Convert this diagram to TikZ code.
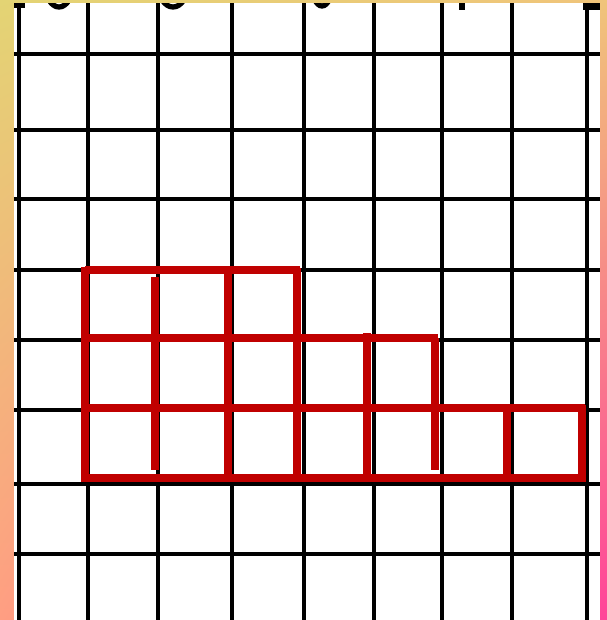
\documentclass[tikz,border=0pt]{standalone}
\usepackage{tikz}
\usepackage{color}
\usetikzlibrary{shadings}

\definecolor{frameTL}{HTML}{E3D474}
\definecolor{frameTR}{HTML}{F0C47A}
\definecolor{frameBL}{HTML}{FF9E82}
\definecolor{frameBR}{HTML}{FF4499}
\definecolor{squarered}{RGB}{192,0,0}

\begin{document}
\begin{tikzpicture}[x=0.02cm,y=-0.02cm,
	gridline/.style={black,line width=2.1pt},
	redline/.style={squarered,line width=4pt}]
	\useasboundingbox (0,0) rectangle (607,620);

	% coloured frame and paper
	\shade[upper left=frameTL,upper right=frameTR,lower left=frameBL,lower right=frameBR]
		(0,0) rectangle (607,620);
	\fill[white] (14,3) rectangle (600,620);

	\begin{scope}
		\clip (14,3) rectangle (600,620);
		% squared paper
		\foreach \x in {19,88,158,232,304,374,442,512,587}
			\draw[gridline] (\x,0)--(\x,620);
		\foreach \y in {54,130,199,270,340,410,484,554}
			\draw[gridline] (14,\y)--(600,\y);
		% cut off marks on the top edge
		\fill (14,0) rectangle (25,8);
		\draw[line width=3pt] (59,-16) ellipse (14 and 23);
		\draw[line width=3pt] (173,-16) ellipse (15 and 23);
		\draw[line width=3pt] (322,-15) ellipse (10 and 21);
		\fill (459,0) rectangle (465,10);
		\fill (583,0) rectangle (600,10);
	\end{scope}

	% the red squares
	\draw[redline] (85,270)--(300,270);
	\draw[redline] (85,338)--(438,338);
	\draw[redline] (85,408)--(585,408);
	\draw[redline] (81,478)--(586,478);
	\draw[redline] (85,267)--(85,482);
	\draw[redline] (155,277)--(155,470);
	\draw[redline] (228,270)--(228,482);
	\draw[redline] (297,268)--(297,482);
	\draw[redline] (367,333)--(367,482);
	\draw[redline] (435,338)--(435,470);
	\draw[redline] (507,408)--(507,482);
	\draw[redline] (582,405)--(582,482);
\end{tikzpicture}
\end{document}
